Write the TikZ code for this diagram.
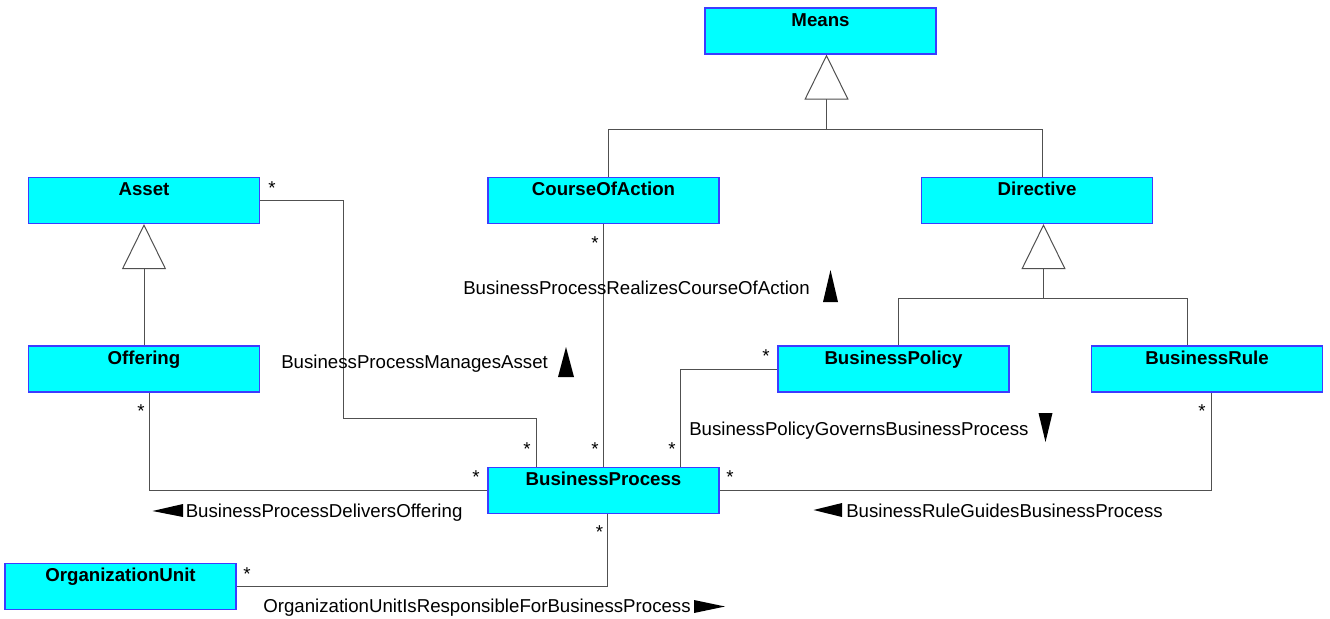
\documentclass[tikz,border=0pt]{standalone}
\usepackage{fontspec}
\setmainfont{Liberation Sans}
\usetikzlibrary{arrows.meta}
\definecolor{boxblue}{RGB}{60,60,255}
\definecolor{boxcyan}{RGB}{0,255,255}
\definecolor{linegray}{RGB}{80,80,80}
\tikzset{
  classbox/.style={draw=boxblue, fill=boxcyan, line width=0.8pt, inner xsep=0pt, inner ysep=0pt,
    text width=173.25pt, align=center, text height=13.5pt, text depth=21pt,
    font=\fontsize{14}{16}\selectfont\bfseries},
  assoc/.style={draw=linegray, line width=0.75pt},
  gen/.style={assoc, -{Triangle[open, length=33.75pt, width=33pt, fill=white]}},
  lbl/.style={inner sep=0pt, anchor=base west, font=\fontsize{14}{16}\selectfont},
  mult/.style={inner sep=0pt, anchor=base, font=\fontsize{14}{16}\selectfont},
  dirtri/.style={fill=black}
}
\begin{document}
\begin{tikzpicture}[x=0.75pt, y=-0.75pt]
  \useasboundingbox (0,0) rectangle (1330,618);
  \node[classbox] (means) at (820.5, 31) {Means};
  \node[classbox] (asset) at (144, 200.5) {Asset};
  \node[classbox] (coa) at (603.5, 200.5) {CourseOfAction};
  \node[classbox] (directive) at (1037, 200.5) {Directive};
  \node[classbox] (offering) at (144, 369) {Offering};
  \node[classbox] (policy) at (893.5, 369) {BusinessPolicy};
  \node[classbox] (rule) at (1207, 369) {BusinessRule};
  \node[classbox] (process) at (603.5, 490.5) {BusinessProcess};
  \node[classbox] (orgunit) at (120.5, 586.5) {OrganizationUnit};
  \coordinate (jm) at (826.5, 129.5);
  \coordinate (jd) at (1043.5, 298.5);
  \coordinate (xc) at (608.5, 0);
  \coordinate (xd) at (1042.5, 0);
  \coordinate (xp) at (898.5, 0);
  \coordinate (xr) at (1187.5, 0);
  \coordinate (ma) at (343.5, 418.5);
  \coordinate (xa) at (536.5, 0);
  \coordinate (xg) at (680.5, 0);
  \coordinate (xu) at (1211.5, 0);
  \coordinate (xo) at (149.5, 0);
  \coordinate (xb) at (607.5, 0);
  \draw[assoc] (coa.north -| xc) |- (jm) -| (directive.north -| xd);
  \draw[gen] (jm) -- (means.south -| jm);
  \draw[assoc] (policy.north -| xp) |- (jd) -| (rule.north -| xr);
  \draw[gen] (jd) -- (directive.south -| jd);
  \draw[gen] (offering.north) -- (asset.south);
  \draw[assoc] (asset.east) -| (ma) -| (process.north -| xa);
  \draw[assoc] (coa.south) -- (process.north);
  \draw[assoc] (process.north -| xg) |- (policy.west);
  \draw[assoc] (process.east) -| (rule.south -| xu);
  \draw[assoc] (offering.south -| xo) |- (process.west);
  \draw[assoc] (process.south -| xb) |- (orgunit.east);
  \node[lbl] (l0) at (281, 368) {BusinessProcessManagesAsset};
  \node[lbl] (l1) at (463, 294) {BusinessProcessRealizesCourseOfAction};
  \node[lbl] (l2) at (689, 435) {BusinessPolicyGovernsBusinessProcess};
  \node[lbl] (l3) at (846, 517) {BusinessRuleGuidesBusinessProcess};
  \node[lbl] (l4) at (185.5, 517) {BusinessProcessDeliversOffering};
  \node[lbl] (l5) at (263, 612) {OrganizationUnitIsResponsibleForBusinessProcess};
  \fill[dirtri] (566, 347) -- (574, 377) -- (558, 377) -- cycle;
  \fill[dirtri] (830.5, 270) -- (838, 302) -- (823, 302) -- cycle;
  \fill[dirtri] (1038.5, 413) -- (1052.5, 413) -- (1045.5, 442) -- cycle;
  \fill[dirtri] (813.5, 510) -- (842, 503) -- (842, 517) -- cycle;
  \fill[dirtri] (152.5, 511) -- (183, 504) -- (183, 517) -- cycle;
  \fill[dirtri] (694, 600) -- (725, 606.5) -- (694, 613) -- cycle;
  \node[mult] (m0) at (272, 194) {*};
  \node[mult] (m1) at (527, 455) {*};
  \node[mult] (m2) at (595, 249) {*};
  \node[mult] (m3) at (595, 455) {*};
  \node[mult] (m4) at (766, 362) {*};
  \node[mult] (m5) at (672, 455) {*};
  \node[mult] (m6) at (1202, 417) {*};
  \node[mult] (m7) at (730, 483) {*};
  \node[mult] (m8) at (141, 417) {*};
  \node[mult] (m9) at (476, 483) {*};
  \node[mult] (m10) at (599.5, 538) {*};
  \node[mult] (m11) at (247, 580) {*};
\end{tikzpicture}
\end{document}
